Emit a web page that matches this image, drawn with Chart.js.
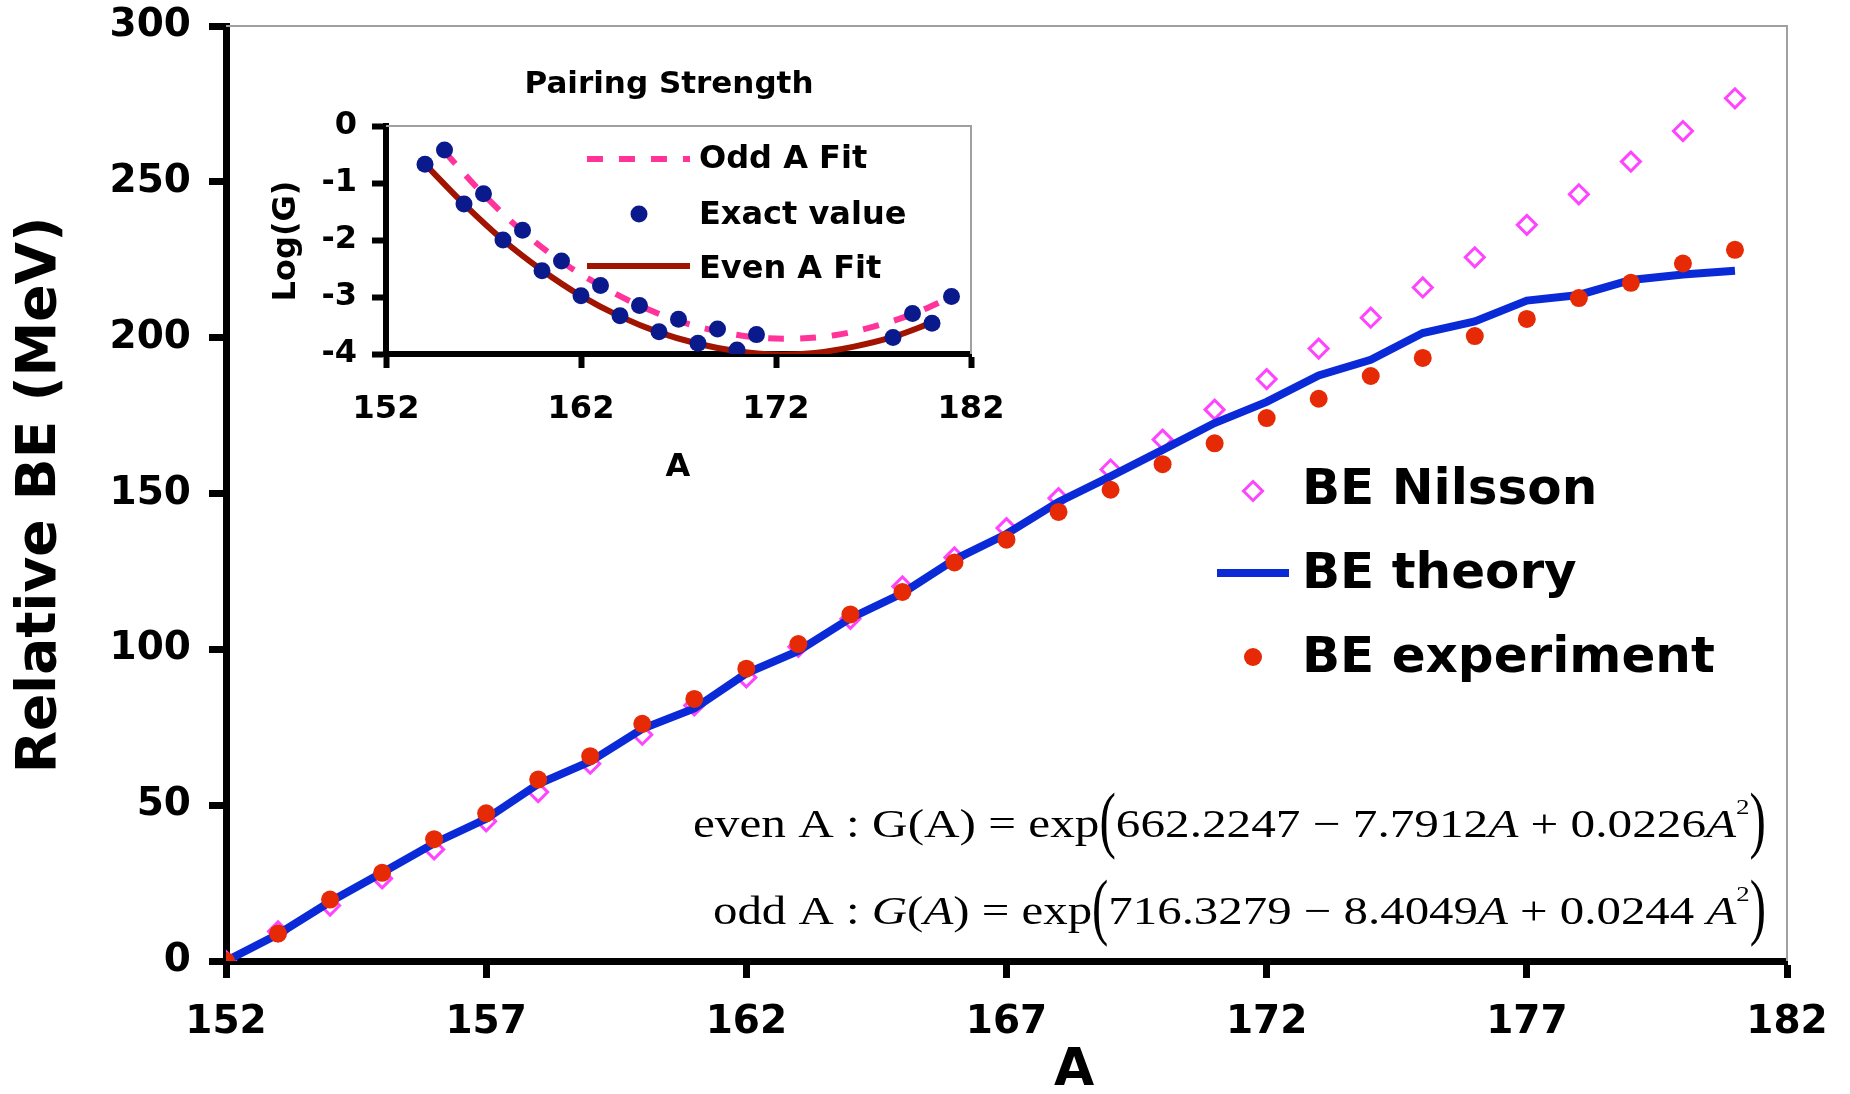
<!DOCTYPE html>
<html>
<head>
<meta charset="utf-8">
<title>Relative BE vs A</title>
<script src="https://cdn.jsdelivr.net/npm/chart.js@4.4.0/dist/chart.umd.min.js"></script>
<style>
  html, body { margin: 0; padding: 0; background: #fff; }
  #wrap { position: relative; width: 1850px; height: 1094px; }
  #mainChart { position: absolute; left: 0; top: 0; }
  #insetChart { position: absolute; left: 250px; top: 40px; }
</style>
</head>
<body>
<div id="wrap">
  <canvas id="mainChart" width="1850" height="1094"></canvas>
  <canvas id="insetChart" width="760" height="450"></canvas>
</div>
<script>
// main chart data (A = mass number)
const massNumbers = [152,153,154,155,156,157,158,159,160,161,162,163,164,165,166,
                     167,168,169,170,171,172,173,174,175,176,177,178,179,180,181];
const beNilsson = [0,9.5,17.8,26.5,35.8,44.8,54.2,63.3,72.6,82,91,100.8,109.8,120.2,129.5,
                   138.9,148.5,157.7,167.3,176.9,186.7,196.5,206.4,216.1,225.8,236.2,246,256.5,266.3,276.8];
const beTheory = [0,8.6,19,28.3,37.8,45.6,56.8,64,74.5,81,92.3,99.5,110,118,128.8,
                  137,147.3,155.5,164,172.6,179.4,187.9,192.9,201.5,205.2,211.9,213.7,218.5,220.3,221.5];
const beExperiment = [0,8.8,19.7,28.3,39.1,47.4,58.2,65.7,76.1,84.1,93.8,101.7,111.2,118.4,127.9,
                      135.2,144.1,151.2,159.4,166.1,174.2,180.4,187.7,193.5,200.5,206,212.7,217.6,223.8,228.2];
const mainXTicks = [152,157,162,167,172,177,182];
const mainYTicks = [0,50,100,150,200,250,300];

// inset data: pairing strength
const exactA = [154,155,156,157,158,159,160,161,162,163,164,165,166,167,168,169,170,171,178,179,180,181];
const exactLogG = [-0.67,-0.42,-1.37,-1.19,-2.0,-1.83,-2.54,-2.37,-2.98,-2.8,-3.33,-3.15,-3.61,-3.39,
                   -3.81,-3.56,-3.93,-3.66,-3.71,-3.29,-3.46,-2.99];
const oddFitA = [155,157,159,161,163,165,167,169,171,173,175,177,179,181];
const oddFitLogG = [-0.45,-1.2,-1.85,-2.38,-2.8,-3.15,-3.42,-3.6,-3.71,-3.73,-3.67,-3.52,-3.3,-3.0];
const evenFitA = [154,156,158,160,162,164,166,168,170,172,174,176,178,180];
const evenFitLogG = [-0.67,-1.37,-2.0,-2.53,-2.98,-3.34,-3.62,-3.82,-3.95,-4.01,-3.98,-3.87,-3.7,-3.45];
const insetXTicks = [152,162,172,182];
const insetYTicks = [-4,-3,-2,-1,0];

const SANS = '"DejaVu Sans", Verdana, sans-serif';
const SERIF = '"Liberation Serif", "Times New Roman", serif';
Chart.defaults.font.family = SANS;
Chart.defaults.font.weight = 'bold';
Chart.defaults.color = '#000';

function pts(xs, ys) { return xs.map((x, i) => ({ x: x, y: ys[i] })); }

// keep the plot box where we put it: no extra room for edge labels
function fixBox(size, key) {
  return s => {
    s[key] = size;
    s.paddingTop = 0; s.paddingBottom = 0; s.paddingLeft = 0; s.paddingRight = 0;
  };
}

function drawMarker(ctx, style, x, y, r, fill, stroke, bw) {
  ctx.save();
  ctx.beginPath();
  if (style === 'rectRot') {
    ctx.moveTo(x, y - r); ctx.lineTo(x + r, y); ctx.lineTo(x, y + r); ctx.lineTo(x - r, y); ctx.closePath();
  } else {
    ctx.arc(x, y, r, 0, Math.PI * 2);
  }
  if (fill) { ctx.fillStyle = fill; ctx.fill(); }
  if (bw) { ctx.lineWidth = bw; ctx.strokeStyle = stroke; ctx.stroke(); }
  ctx.restore();
}

function drawEquation(ctx, parts, left, right, baseline) {
  const fontOf = p => (p.it ? 'italic ' : '') + (p.sup ? 22 : 40) + 'px ' + SERIF;
  let w = 0;
  parts.forEach(p => { ctx.font = fontOf(p); p.w = ctx.measureText(p.t).width; w += p.w; });
  const k = (right - left) / w;
  ctx.save();
  ctx.fillStyle = '#000';
  ctx.textAlign = 'left';
  ctx.textBaseline = 'alphabetic';
  ctx.translate(left, baseline);
  ctx.scale(k, 1);
  let x = 0;
  parts.forEach(p => {
    ctx.font = fontOf(p);
    if (p.big) {
      ctx.save(); ctx.translate(x, 7); ctx.scale(1, 1.85); ctx.fillText(p.t, 0, 0); ctx.restore();
    } else {
      ctx.fillText(p.t, x, p.sup ? -23 : 0);
    }
    x += p.w;
  });
  ctx.restore();
}

const evenEq = [
  {t: 'even A : '}, {t: 'G(A)'}, {t: ' = '}, {t: 'exp'}, {t: '(', big: true},
  {t: '662.2247'}, {t: ' \u2212 '}, {t: '7.7912'}, {t: 'A', it: true}, {t: ' + '},
  {t: '0.0226'}, {t: 'A', it: true}, {t: '2', sup: true}, {t: ')', big: true}
];
const oddEq = [
  {t: 'odd A : '}, {t: 'G', it: true}, {t: '('}, {t: 'A', it: true}, {t: ')'}, {t: ' = '}, {t: 'exp'},
  {t: '(', big: true}, {t: '716.3279'}, {t: ' \u2212 '}, {t: '8.4049'}, {t: 'A', it: true}, {t: ' + '},
  {t: '0.0244'}, {t: ' A', it: true}, {t: '2', sup: true}, {t: ')', big: true}
];

const mainDecor = {
  id: 'mainDecor',
  beforeDatasetsDraw(chart) {
    const { ctx, chartArea: a } = chart;
    ctx.save();
    ctx.strokeStyle = '#a0a0a0';
    ctx.lineWidth = 2;
    ctx.beginPath();
    ctx.moveTo(a.left, a.top); ctx.lineTo(a.right, a.top); ctx.lineTo(a.right, a.bottom);
    ctx.stroke();
    ctx.restore();
  },
  afterDraw(chart) {
    const ctx = chart.ctx;
    const ds = chart.data.datasets;
    ctx.save();
    ctx.fillStyle = '#000';
    // axis titles
    ctx.textAlign = 'center';
    ctx.textBaseline = 'middle';
    ctx.font = 'bold 52px ' + SANS;
    ctx.fillText('A', 1074, 1071);
    ctx.save();
    ctx.translate(41, 495);
    ctx.rotate(-Math.PI / 2);
    ctx.font = 'bold 55px ' + SANS;
    ctx.fillText('Relative BE (MeV)', 0, 0);
    ctx.restore();

    // legend
    ctx.textAlign = 'left';
    ctx.font = 'bold 50px ' + SANS;
    drawMarker(ctx, 'rectRot', 1253, 491, 9.5, null, ds[0].pointBorderColor, 3);
    ctx.fillText('BE Nilsson', 1302, 491);
    ctx.save();
    ctx.strokeStyle = ds[1].borderColor; ctx.lineWidth = ds[1].borderWidth;
    ctx.beginPath(); ctx.moveTo(1217, 573); ctx.lineTo(1289, 573); ctx.stroke();
    ctx.restore();
    ctx.fillText('BE theory', 1302, 575);
    drawMarker(ctx, 'circle', 1253, 657, 9, ds[2].pointBackgroundColor, null, 0);
    ctx.fillText('BE experiment', 1302, 659);
    ctx.restore();

    // fit formulas
    drawEquation(ctx, evenEq, 693, 1766, 837);
    drawEquation(ctx, oddEq, 713, 1766, 924);
  }
};

new Chart(document.getElementById('mainChart'), {
  type: 'line',
  data: {
    datasets: [
      {
        label: 'BE Nilsson', data: pts(massNumbers, beNilsson), showLine: false,
        pointStyle: 'rectRot', pointRadius: 9.5, pointBorderWidth: 3,
        pointBorderColor: '#ff44ff', pointBackgroundColor: 'rgba(0,0,0,0)', order: 3
      },
      {
        label: 'BE theory', data: pts(massNumbers, beTheory),
        borderColor: '#0a2ad8', borderWidth: 8, pointRadius: 0, tension: 0, order: 2
      },
      {
        label: 'BE experiment', data: pts(massNumbers, beExperiment), showLine: false,
        pointRadius: 9, pointBorderWidth: 0, pointBackgroundColor: '#e52a05', order: 1
      }
    ]
  },
  options: {
    responsive: false,
    animation: false,
    events: [],
    layout: { padding: { top: 26, right: 63, bottom: 0, left: 0 } },
    plugins: { legend: { display: false }, tooltip: { enabled: false } },
    scales: {
      x: {
        type: 'linear', min: 152, max: 182,
        afterBuildTicks: s => { s.ticks = mainXTicks.map(v => ({ value: v })); },
        afterFit: fixBox(133, 'height'),
        ticks: { font: { size: 39, weight: 'bold' }, padding: 21, maxRotation: 0 },
        grid: { drawOnChartArea: false, tickLength: 17, tickWidth: 7, tickColor: '#000' },
        border: { color: '#000', width: 7 }
      },
      y: {
        min: 0, max: 300,
        afterBuildTicks: s => { s.ticks = mainYTicks.map(v => ({ value: v })); },
        afterFit: fixBox(226, 'width'),
        ticks: { font: { size: 39, weight: 'bold' }, padding: 18 },
        grid: { drawOnChartArea: false, tickLength: 17, tickWidth: 7, tickColor: '#000' },
        border: { color: '#000', width: 7 }
      }
    }
  },
  plugins: [mainDecor]
});

const insetDecor = {
  id: 'insetDecor',
  beforeDatasetsDraw(chart) {
    const { ctx, chartArea: a } = chart;
    ctx.save();
    ctx.strokeStyle = '#a0a0a0';
    ctx.lineWidth = 2;
    ctx.beginPath();
    ctx.moveTo(a.left, a.top); ctx.lineTo(a.right, a.top); ctx.lineTo(a.right, a.bottom);
    ctx.stroke();
    ctx.restore();
  },
  afterDraw(chart) {
    const ctx = chart.ctx;
    const ds = chart.data.datasets;
    ctx.save();
    ctx.fillStyle = '#000';
    ctx.textAlign = 'center';
    ctx.textBaseline = 'middle';
    ctx.font = 'bold 31px ' + SANS;
    ctx.fillText('Pairing Strength', 419, 45);
    ctx.font = 'bold 32px ' + SANS;
    ctx.fillText('A', 428, 428);
    ctx.save();
    ctx.translate(37, 201);
    ctx.rotate(-Math.PI / 2);
    ctx.fillText('Log(G)', 0, 0);
    ctx.restore();

    // legend
    ctx.textAlign = 'left';
    ctx.font = 'bold 32px ' + SANS;
    ctx.save();
    ctx.strokeStyle = ds[1].borderColor; ctx.lineWidth = ds[1].borderWidth;
    ctx.setLineDash(ds[1].borderDash);
    ctx.beginPath(); ctx.moveTo(337, 119); ctx.lineTo(440, 119); ctx.stroke();
    ctx.restore();
    ctx.fillText('Odd A Fit', 449, 120);
    drawMarker(ctx, 'circle', 389, 174, 8.5, ds[0].pointBackgroundColor, null, 0);
    ctx.fillText('Exact value', 449, 176);
    ctx.save();
    ctx.strokeStyle = ds[2].borderColor; ctx.lineWidth = ds[2].borderWidth;
    ctx.beginPath(); ctx.moveTo(337, 226); ctx.lineTo(440, 226); ctx.stroke();
    ctx.restore();
    ctx.fillText('Even A Fit', 449, 230);
    ctx.restore();
  }
};

new Chart(document.getElementById('insetChart'), {
  type: 'line',
  data: {
    datasets: [
      {
        label: 'Exact value', data: pts(exactA, exactLogG), showLine: false,
        pointRadius: 8.5, pointBorderWidth: 0, pointBackgroundColor: '#0a1a8c', order: 1
      },
      {
        label: 'Odd A Fit', data: pts(oddFitA, oddFitLogG), borderColor: '#ff3399',
        borderWidth: 6, borderDash: [16, 16], pointRadius: 0, tension: 0.35, order: 3
      },
      {
        label: 'Even A Fit', data: pts(evenFitA, evenFitLogG), borderColor: '#a01400',
        borderWidth: 6, pointRadius: 0, tension: 0.35, order: 2
      }
    ]
  },
  options: {
    responsive: false,
    animation: false,
    events: [],
    layout: { padding: { top: 86, right: 39, bottom: 0, left: 0 } },
    plugins: { legend: { display: false }, tooltip: { enabled: false } },
    scales: {
      x: {
        type: 'linear', min: 152, max: 182,
        afterBuildTicks: s => { s.ticks = insetXTicks.map(v => ({ value: v })); },
        afterFit: fixBox(136, 'height'),
        ticks: { font: { size: 32, weight: 'bold' }, padding: 22, maxRotation: 0 },
        grid: { drawOnChartArea: false, tickLength: 14, tickWidth: 6, tickColor: '#000' },
        border: { color: '#000', width: 6 }
      },
      y: {
        min: -4, max: 0,
        afterBuildTicks: s => { s.ticks = insetYTicks.map(v => ({ value: v })); },
        afterFit: fixBox(136, 'width'),
        ticks: { font: { size: 32, weight: 'bold' }, padding: 15 },
        grid: { drawOnChartArea: false, tickLength: 14, tickWidth: 6, tickColor: '#000' },
        border: { color: '#000', width: 6 }
      }
    }
  },
  plugins: [insetDecor]
});
</script>
</body>
</html>
